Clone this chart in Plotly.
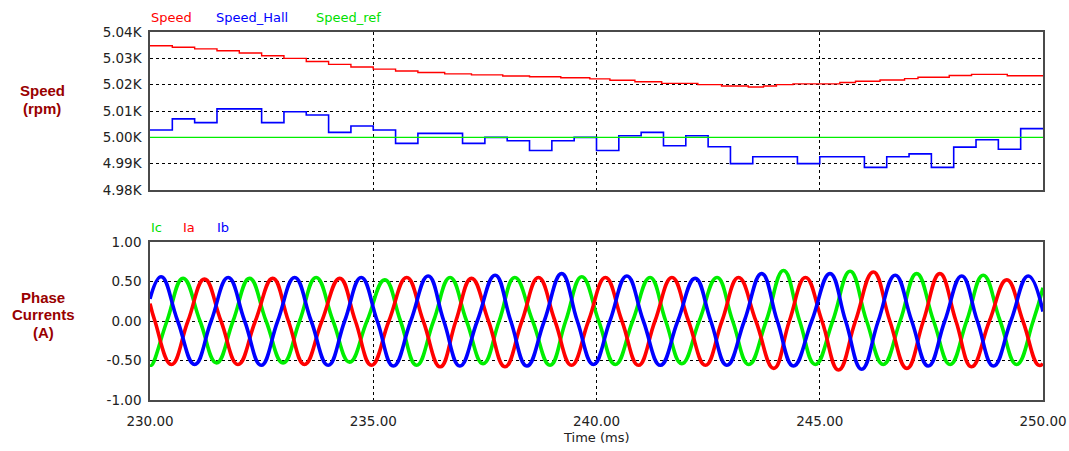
import plotly.graph_objects as go

# ---------------- data ----------------
# Speed (red), step trace: change times (ms) and values (rpm)
speed_t = [230.0, 230.5, 231.0, 231.5, 232.0, 232.5, 233.0, 233.5, 234.0, 234.5,
           235.0, 235.5, 236.0, 236.6, 237.2, 237.9, 238.5, 239.2, 239.85, 240.3,
           240.86, 241.46, 242.27, 242.8, 243.4, 243.74, 244.03, 244.4, 245.45, 245.8,
           246.35, 246.9, 247.2, 247.9, 248.4, 249.2, 250.0]
speed_v = [5034.8, 5034.2, 5033.6, 5032.9, 5032.0, 5031.0, 5030.0, 5028.8, 5027.7, 5026.7,
           5025.9, 5025.2, 5024.6, 5024.1, 5023.7, 5023.3, 5023.0, 5022.6, 5022.2, 5021.7,
           5021.1, 5020.5, 5020.0, 5019.5, 5019.1, 5019.5, 5020.0, 5020.3, 5020.8, 5021.3,
           5021.8, 5022.3, 5022.8, 5023.5, 5023.9, 5023.4, 5023.4]

# Speed_Hall (blue), one value per 0.5 ms interval
hall_t = [230.0, 230.5, 231.0, 231.5, 232.0, 232.5, 233.0, 233.5, 234.0, 234.5,
          235.0, 235.5, 236.0, 236.5, 237.0, 237.5, 238.0, 238.5, 239.0, 239.5,
          240.0, 240.5, 241.0, 241.5, 242.0, 242.5, 243.0, 243.5, 244.0, 244.5,
          245.0, 245.5, 246.0, 246.5, 247.0, 247.5, 248.0, 248.5, 249.0, 249.5, 250.0]
hall_v = [5002.8, 5007.0, 5005.6, 5010.8, 5010.8, 5005.6, 5009.7, 5008.5, 5001.9, 5004.3,
          5002.8, 4997.7, 5001.5, 5001.5, 4997.7, 5000.0, 4998.7, 4995.0, 4998.7, 5000.0,
          4995.0, 5000.6, 5001.9, 4996.8, 5000.6, 4996.4, 4990.0, 4992.6, 4992.6, 4990.0,
          4992.6, 4992.6, 4988.6, 4992.6, 4993.7, 4988.6, 4996.3, 4999.1, 4995.5, 5003.3, 5003.3]

# Speed_ref (green)
ref_t = [230.0, 250.0]
ref_v = [5000.0, 5000.0]

# Phase currents: start/end values, extremes (time, value) and zero crossings (time)
ia_start, ia_end = 0.22, -0.54
ia_ext_t = [230.48, 231.22, 231.97, 232.75, 233.46, 234.25, 234.96, 235.75, 236.50, 237.20,
            237.95, 238.70, 239.44, 240.20, 240.94, 241.69, 242.44, 243.18, 243.97, 244.68,
            245.42, 246.20, 246.95, 247.69, 248.40, 249.19, 249.90]
ia_ext_v = [-0.55, 0.53, -0.55, 0.54, -0.55, 0.54, -0.56, 0.55, -0.58, 0.54,
            -0.58, 0.55, -0.56, 0.55, -0.56, 0.55, -0.56, 0.55, -0.60, 0.55,
            -0.62, 0.62, -0.60, 0.60, -0.58, 0.52, -0.56]
ia_zero_t = [230.11, 230.85, 231.59, 232.36, 233.10, 233.85, 234.60, 235.35, 236.12, 236.85,
             237.58, 238.33, 239.07, 239.82, 240.57, 241.31, 242.06, 242.81, 243.57, 244.32,
             245.05, 245.80, 246.57, 247.32, 248.05, 248.80, 249.55]

ib_start, ib_end = 0.28, 0.12
ib_ext_t = [230.25, 231.00, 231.75, 232.49, 233.24, 233.99, 234.73, 235.45, 236.23, 236.94,
            237.73, 238.44, 239.22, 239.93, 240.68, 241.43, 242.21, 242.92, 243.70, 244.41,
            245.23, 245.94, 246.69, 247.43, 248.18, 248.89, 249.67]
ib_ext_v = [0.56, -0.55, 0.55, -0.56, 0.55, -0.56, 0.55, -0.57, 0.57, -0.57,
            0.58, -0.57, 0.60, -0.55, 0.57, -0.56, 0.54, -0.56, 0.60, -0.57,
            0.60, -0.61, 0.58, -0.57, 0.57, -0.57, 0.57]
ib_zero_t = [230.62, 231.37, 232.12, 232.86, 233.61, 234.36, 235.09, 235.84, 236.58, 237.33,
             238.08, 238.83, 239.57, 240.30, 241.05, 241.82, 242.56, 243.31, 244.05, 244.82,
             245.58, 246.31, 247.06, 247.80, 248.53, 249.28]

ic_start, ic_end = -0.55, 0.42
ic_ext_t = [230.03, 230.74, 231.49, 232.23, 232.98, 233.72, 234.47, 235.26, 235.97, 236.72,
            237.46, 238.17, 238.96, 239.67, 240.42, 241.20, 241.91, 242.70, 243.41, 244.19,
            244.90, 245.68, 246.42, 247.17, 247.92, 248.66, 249.41]
ic_ext_v = [-0.56, 0.54, -0.53, 0.54, -0.53, 0.55, -0.52, 0.52, -0.56, 0.55,
            -0.54, 0.55, -0.56, 0.56, -0.55, 0.55, -0.54, 0.55, -0.55, 0.64,
            -0.55, 0.63, -0.55, 0.60, -0.55, 0.58, -0.55]
ic_zero_t = [230.38, 231.12, 231.86, 232.60, 233.35, 234.10, 234.86, 235.61, 236.35, 237.09,
             237.82, 238.57, 239.31, 240.05, 240.81, 241.55, 242.30, 243.05, 243.80, 244.55,
             245.29, 246.05, 246.80, 247.55, 248.29, 249.04, 249.78]

speed_ticks = [4980, 4990, 5000, 5010, 5020, 5030, 5040]
speed_ticktext = ["4.98K", "4.99K", "5.00K", "5.01K", "5.02K", "5.03K", "5.04K"]
cur_ticks = [-1.0, -0.5, 0.0, 0.5, 1.0]
cur_ticktext = ["-1.00", "-0.50", "0.00", "0.50", "1.00"]
time_ticks = [230, 235, 240, 245, 250]
time_ticktext = ["230.00", "235.00", "240.00", "245.00", "250.00"]


def wave(start, end, ext_t, ext_v, zero_t):
    pts = [(230.0, start)] + list(zip(ext_t, ext_v)) + [(z, 0.0) for z in zero_t] + [(250.0, end)]
    pts.sort(key=lambda p: p[0])
    return [p[0] for p in pts], [p[1] for p in pts]


RED, BLUE, GREEN = "#ff0000", "#0000ff", "#00ee00"
FONT = "DejaVu Sans"

fig = go.Figure()
fig.add_trace(go.Scatter(x=speed_t, y=speed_v, mode="lines", line=dict(color=RED, width=1.4, shape="hv"),
                         xaxis="x", yaxis="y"))
fig.add_trace(go.Scatter(x=hall_t, y=hall_v, mode="lines", line=dict(color=BLUE, width=1.6, shape="hv"),
                         xaxis="x", yaxis="y"))
fig.add_trace(go.Scatter(x=ref_t, y=ref_v, mode="lines", line=dict(color=GREEN, width=1.4),
                         xaxis="x", yaxis="y"))

for (s, e, et, ev, zt, col) in [(ic_start, ic_end, ic_ext_t, ic_ext_v, ic_zero_t, GREEN),
                                 (ia_start, ia_end, ia_ext_t, ia_ext_v, ia_zero_t, RED),
                                 (ib_start, ib_end, ib_ext_t, ib_ext_v, ib_zero_t, BLUE)]:
    xs, ys = wave(s, e, et, ev, zt)
    fig.add_trace(go.Scatter(x=xs, y=ys, mode="lines",
                             line=dict(color=col, width=3.6, shape="spline", smoothing=1.3),
                             xaxis="x2", yaxis="y2"))

W, H = 1069, 451
xdom = [150 / W, 1043 / W]
top_dom = [1 - 190 / H, 1 - 32 / H]
bot_dom = [1 - 400 / H, 1 - 242 / H]

grid = dict(showgrid=True, gridcolor="#000000", gridwidth=1, griddash="3px,3px", zeroline=False,
            showline=True, mirror=True, linecolor="#4a4a4a", linewidth=1.5, automargin=False,
            tickfont=dict(family=FONT, size=13.5, color="#222222"), ticks="")

fig.update_layout(
    width=W, height=H, margin=dict(l=0, r=0, t=0, b=0, autoexpand=False),
    paper_bgcolor="white", plot_bgcolor="white", showlegend=False,
    xaxis=dict(domain=xdom, anchor="y", range=[230, 250], tickvals=time_ticks,
               showticklabels=False, **grid),
    yaxis=dict(domain=top_dom, anchor="x", range=[4980, 5040], tickvals=speed_ticks,
               ticktext=speed_ticktext, ticklabelstandoff=4, **grid),
    xaxis2=dict(domain=xdom, anchor="y2", range=[230, 250], tickvals=time_ticks,
                ticktext=time_ticktext, ticklabelstandoff=8, **grid),
    yaxis2=dict(domain=bot_dom, anchor="x2", range=[-1, 1], tickvals=cur_ticks,
                ticktext=cur_ticktext, ticklabelstandoff=4, **grid),
)

def ann(text, x, y, color, size=13, bold=False, xanchor="left"):
    fig.add_annotation(text=f"<b>{text}</b>" if bold else text, x=x / W, y=1 - y / H,
                       xref="paper", yref="paper", showarrow=False, xanchor=xanchor,
                       yanchor="middle", font=dict(family=FONT, size=size, color=color))

ann("Speed", 149, 17, RED)
ann("Speed_Hall", 214, 17, BLUE)
ann("Speed_ref", 314, 17, "#00e000")
ann("Ic", 149, 228, "#00e000")
ann("Ia", 181, 228, RED)
ann("Ib", 215, 228, BLUE)

TITLE = "#990000"
for txt, x, y in [("Speed", 42, 90), ("(rpm)", 42, 108),
                  ("Phase", 43, 297), ("Currents", 43, 314), ("(A)", 43, 332)]:
    fig.add_annotation(text=f"<b>{txt}</b>", x=x / W, y=1 - y / H, xref="paper", yref="paper",
                       showarrow=False, xanchor="center", yanchor="middle",
                       font=dict(family="Liberation Sans", size=15, color=TITLE))

ann("Time (ms)", 596, 437, "#222222", size=13, xanchor="center")

fig.write_html("out.html")
